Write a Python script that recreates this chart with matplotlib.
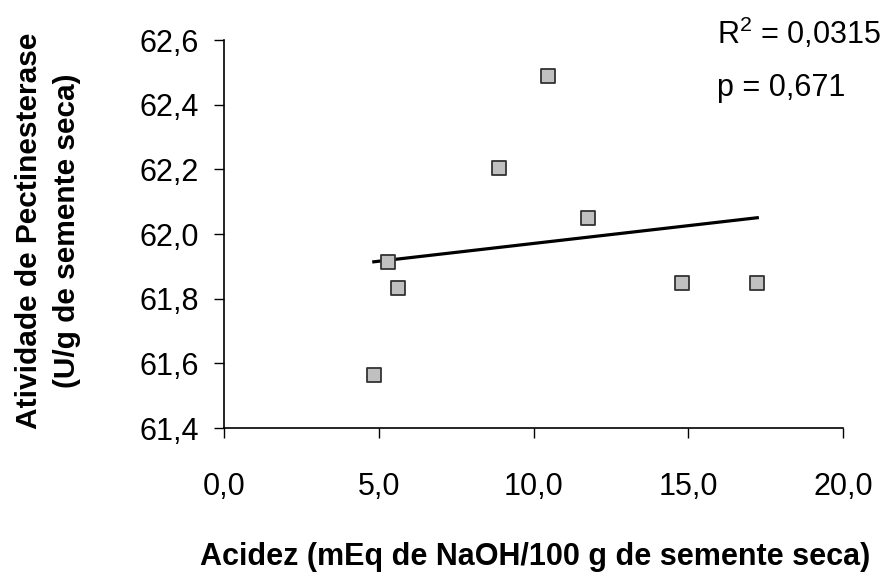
import numpy as np
import matplotlib
matplotlib.use("Agg")
import matplotlib.pyplot as plt
from matplotlib.ticker import FuncFormatter

plt.rcParams['font.family'] = ['Liberation Sans', 'DejaVu Sans']
plt.rcParams['mathtext.fontset'] = 'custom'
plt.rcParams['mathtext.rm'] = 'Liberation Sans'
plt.rcParams['mathtext.default'] = 'regular'

# data
acidez = [4.84, 5.29, 5.61, 8.87, 10.48, 11.77, 14.81, 17.23]
atividade = [61.564, 61.914, 61.833, 62.205, 62.490, 62.050, 61.849, 61.849]
x_ticks = [0, 5, 10, 15, 20]
y_ticks = [61.4, 61.6, 61.8, 62.0, 62.2, 62.4, 62.6]
r2_text = "R$^{2}$ = 0,0315"
p_text = "p = 0,671"

fig = plt.figure(figsize=(8.88, 5.76), dpi=100)
ax = fig.add_axes([224 / 888, 1 - 428 / 576, (843 - 224) / 888, (428 - 40) / 576])

ax.scatter(acidez, atividade, marker="s", s=95, facecolor="#c0c0c0",
           edgecolor="#333333", linewidth=1.3, zorder=3)

# linear trend line over the data range
slope, intercept = np.polyfit(acidez, atividade, 1)
xs = np.array([min(acidez), max(acidez)])
ax.plot(xs, slope * xs + intercept, color="black", linewidth=2.3, zorder=2)

ax.set_xlim(0, 20)
ax.set_ylim(61.4, 62.6)
ax.set_xticks(x_ticks)
ax.set_yticks(y_ticks)
fmt = FuncFormatter(lambda v, _: f"{v:.1f}".replace(".", ","))
ax.xaxis.set_major_formatter(fmt)
ax.yaxis.set_major_formatter(fmt)
ax.tick_params(direction="out", length=7, width=1, labelsize=22)
ax.tick_params(axis="x", pad=25)
ax.tick_params(axis="y", pad=11)

for side in ["top", "right"]:
    ax.spines[side].set_visible(False)
for side in ["left", "bottom"]:
    ax.spines[side].set_linewidth(1.2)

fig.text(535 / 888, 1 - 557 / 576, "Acidez (mEq de NaOH/100 g de semente seca)",
         ha="center", va="center", fontsize=22, fontweight="bold")
fig.text(48 / 888, 1 - 231 / 576, "Atividade de Pectinesterase\n(U/g de semente seca)",
         ha="center", va="center", rotation=90, fontsize=21.5, fontweight="bold",
         multialignment="center", linespacing=1.45)

fig.text(717 / 888, 1 - 33 / 576, r2_text, ha="left", va="center", fontsize=22)
fig.text(717 / 888, 1 - 88 / 576, p_text, ha="left", va="center", fontsize=22)

fig.savefig("out.png", dpi=100)
